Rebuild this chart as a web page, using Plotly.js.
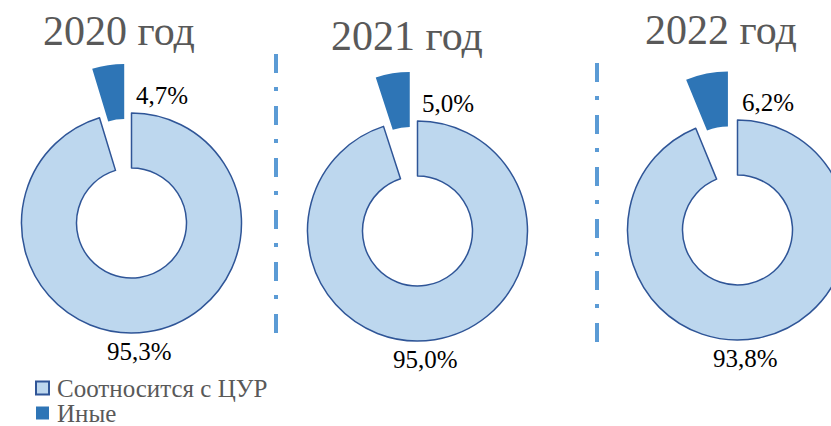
<!DOCTYPE html>
<html><head><meta charset="utf-8">
<script src="https://cdn.plot.ly/plotly-3.0.1.min.js"></script>
<style>html,body{margin:0;padding:0;overflow:hidden;background:#fff;width:831px;height:426px}
#chart{margin-left:-40px;width:960px;height:426px}
#chart svg text{font-family:'Liberation Serif','Times New Roman',serif !important}</style>
</head><body><div id="chart"></div>
<script>
// ---- data ----
const years = ['2020 год', '2021 год', '2022 год'];
const categories = ['Соотносится с ЦУР', 'Иные'];
const sdgShare = [95.3, 95.0, 93.8];
const otherShare = [4.7, 5.0, 6.2];

// ---- layout helpers ----
const W = 960, H = 426, OX = 40;
const px = x => (x + OX) / W;
const py = y => 1 - y / H;
const R = 110, PULL = 0.45;
const half = R * (1 + PULL);
const centers = [[131.5, 223], [417.5, 231], [737.5, 230]];
const titlePos = [[118.5, 31], [407, 36], [721, 30]];
const SERIF = 'Liberation Serif';
const fmt = v => v.toFixed(1).replace('.', ',') + '%';
const fillColors = ['#BDD7EE', '#2E75B6'];
const lineColors = ['#2F5597', '#2E75B6'];
const lineWidths = [1.5, 0];

function draw() {
  const traces = years.map((yr, i) => {
    const [cx, cy] = centers[i];
    return {
      type: 'pie',
      labels: categories,
      values: [sdgShare[i], otherShare[i]],
      sort: false,
      direction: 'clockwise',
      rotation: 0,
      hole: 0.5,
      pull: [0, PULL],
      textinfo: 'none',
      hoverinfo: 'label+percent',
      marker: {colors: fillColors, line: {color: lineColors, width: lineWidths}},
      domain: {x: [px(cx - half), px(cx + half)], y: [py(cy + half), py(cy - half)]},
      showlegend: false
    };
  });

  const annotations = [];
  const shapes = [];
  years.forEach((yr, i) => {
    const [cx, cy] = centers[i];
    annotations.push({text: yr, x: px(titlePos[i][0]), y: py(titlePos[i][1]), xref: 'paper', yref: 'paper',
      showarrow: false, xanchor: 'center', yanchor: 'middle', font: {family: SERIF, size: 42, color: '#595959'}});
    annotations.push({text: fmt(otherShare[i]), x: px(cx + 30), y: py(cy - 128), xref: 'paper', yref: 'paper',
      showarrow: false, xanchor: 'center', yanchor: 'middle', font: {family: SERIF, size: 25, color: '#000'}});
    annotations.push({text: fmt(sdgShare[i]), x: px(cx + 8), y: py(cy + 128), xref: 'paper', yref: 'paper',
      showarrow: false, xanchor: 'center', yanchor: 'middle', font: {family: SERIF, size: 25, color: '#000'}});
  });

  // legend drawn from the categories
  categories.forEach((c, k) => {
    const yc = 388 + k * 25;
    shapes.push({type: 'rect', xref: 'paper', yref: 'paper', x0: px(36), x1: px(49), y0: py(yc + 6.5), y1: py(yc - 6.5),
      fillcolor: fillColors[k], line: {color: lineColors[k], width: lineWidths[k] ? 2 : 0}});
    annotations.push({text: c, x: px(55), y: py(yc), xref: 'paper', yref: 'paper', showarrow: false,
      xanchor: 'left', yanchor: 'middle', font: {family: SERIF, size: 25, color: '#595959'}});
  });

  const sep = (x, y0, y1) => ({type: 'line', xref: 'paper', yref: 'paper', x0: px(x), x1: px(x), y0: py(y0), y1: py(y1),
    line: {color: '#5B9BD5', width: 4, dash: '19px,14px,4px,15px'}});
  shapes.push(sep(276, 54, 340), sep(597, 63, 349));

  const layout = {
    width: W, height: H,
    margin: {l: 0, r: 0, t: 0, b: 0, autoexpand: false},
    paper_bgcolor: '#fff',
    font: {family: SERIF},
    showlegend: false,
    xaxis: {visible: false}, yaxis: {visible: false},
    annotations: annotations,
    shapes: shapes
  };

  Plotly.newPlot('chart', traces, layout, {staticPlot: true, displayModeBar: false});
}

if (document.fonts && document.fonts.load) {
  document.fonts.load('25px "Liberation Serif"').then(draw, draw);
} else {
  draw();
}
</script></body></html>
